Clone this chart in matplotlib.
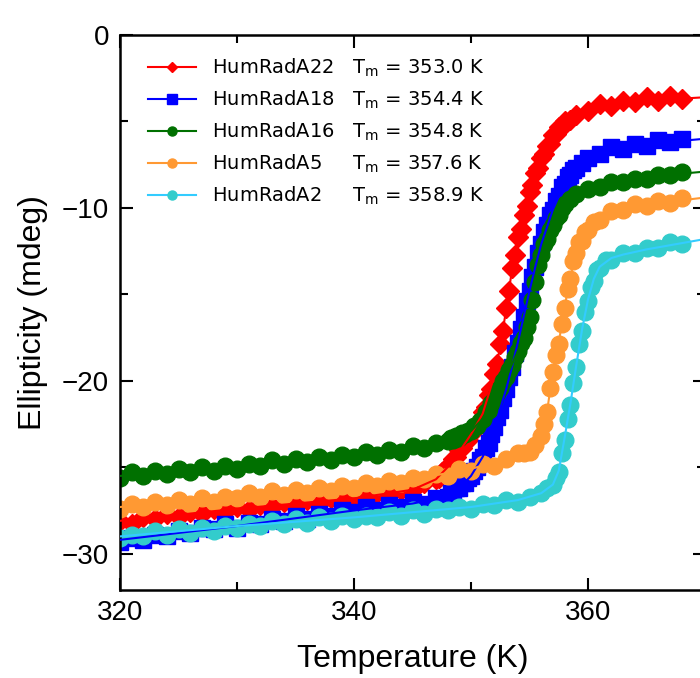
import matplotlib
matplotlib.use('Agg')
import matplotlib.pyplot as plt
from matplotlib.lines import Line2D

# melting curves, ellipticity (mdeg) vs temperature (K)
names = ['HumRadA22', 'HumRadA18', 'HumRadA16', 'HumRadA5', 'HumRadA2']
tm_values = [353.0, 354.4, 354.8, 357.6, 358.9]

# measured points, (T, ellipticity)
pts_a22 = [(320, -28.1), (321, -28.3), (322, -27.9), (323, -28.0), (324, -27.7), (325, -27.9), (326, -27.6),
           (327, -27.7), (328, -27.4), (329, -27.6), (330, -27.3), (331, -27.5), (332, -27.2), (333, -27.3),
           (334, -27.0), (335, -27.2), (336, -26.9), (337, -27.1), (338, -26.8), (339, -26.9), (340, -26.7),
           (341, -26.8), (342, -26.5), (343, -26.6), (344, -26.3), (345, -26.3), (346, -25.9), (347, -25.7),
           (347.25, -25.6), (347.5, -25.3), (347.75, -25.3), (348, -24.9), (348.25, -24.8), (348.5, -24.5),
           (348.75, -24.4), (349, -24.0), (349.25, -23.9), (349.5, -23.5), (349.75, -23.4), (350, -23.0),
           (350.25, -22.9), (350.5, -22.5), (350.75, -22.3), (351, -21.8), (351.25, -21.5), (351.5, -20.8),
           (351.75, -20.5), (352, -19.6), (352.25, -19.0), (352.5, -17.9), (352.75, -17.1), (353, -15.8),
           (353.25, -14.8), (353.5, -13.5), (353.75, -12.7), (354, -11.7), (354.25, -11.2), (354.5, -10.4),
           (354.75, -9.9), (355, -9.1), (355.25, -8.7), (355.5, -8.0), (355.75, -7.7), (356, -7.1),
           (356.25, -6.9), (356.5, -6.4), (356.75, -6.3), (357, -5.8), (357.25, -5.7), (357.5, -5.3),
           (357.75, -5.3), (358, -5.0), (358.5, -4.9), (359, -4.6), (360, -4.4), (361, -4.0), (362, -4.1),
           (363, -3.8), (364, -3.9), (365, -3.6), (366, -3.8), (367, -3.5), (368, -3.7)]

pts_a18 = [(320, -29.3), (321, -29.1), (322, -29.2), (323, -28.9), (324, -29.0), (325, -28.7), (326, -28.8),
           (327, -28.5), (328, -28.6), (329, -28.3), (330, -28.5), (331, -28.2), (332, -28.3), (333, -28.0),
           (334, -28.1), (335, -27.8), (336, -28.0), (337, -27.7), (338, -27.8), (339, -27.5), (340, -27.6),
           (341, -27.3), (342, -27.5), (343, -27.2), (344, -27.3), (345, -27.0), (346, -27.1), (347, -26.8),
           (348, -26.7), (348.25, -26.5), (348.5, -26.5), (348.75, -26.2), (349, -26.2), (349.25, -25.9),
           (349.5, -25.9), (349.75, -25.6), (350, -25.5), (350.25, -25.2), (350.5, -25.0), (350.75, -24.6),
           (351, -24.4), (351.25, -23.9), (351.5, -23.6), (351.75, -23.1), (352, -22.7), (352.25, -22.1),
           (352.5, -21.7), (352.75, -21.0), (353, -20.5), (353.25, -19.8), (353.5, -19.2), (353.75, -18.4),
           (354, -17.8), (354.25, -17.0), (354.5, -16.3), (354.75, -15.4), (355, -14.8), (355.25, -14.0),
           (355.5, -13.4), (355.75, -12.6), (356, -12.1), (356.25, -11.4), (356.5, -11.0), (356.75, -10.4),
           (357, -10.1), (357.25, -9.6), (357.5, -9.3), (357.75, -8.8), (358, -8.6), (358.25, -8.2),
           (358.5, -8.1), (358.75, -7.8), (359, -7.7), (359.5, -7.4), (360, -7.1), (361, -6.9), (362, -6.5),
           (363, -6.6), (364, -6.3), (365, -6.4), (366, -6.1), (367, -6.2), (368, -6.0)]

pts_a16 = [(320, -25.6), (321, -25.3), (322, -25.5), (323, -25.2), (324, -25.4), (325, -25.1), (326, -25.3),
           (327, -25.0), (328, -25.2), (329, -24.9), (330, -25.1), (331, -24.8), (332, -24.9), (333, -24.6),
           (334, -24.8), (335, -24.5), (336, -24.7), (337, -24.4), (338, -24.6), (339, -24.3), (340, -24.4),
           (341, -24.1), (342, -24.3), (343, -24.0), (344, -24.1), (345, -23.8), (346, -23.9), (347, -23.6),
           (348, -23.5), (348.25, -23.3), (348.5, -23.4), (348.75, -23.2), (349, -23.3), (349.25, -23.0),
           (349.5, -23.1), (349.75, -22.9), (350, -22.9), (350.25, -22.6), (350.5, -22.6), (350.75, -22.3),
           (351, -22.2), (351.25, -21.8), (351.5, -21.7), (351.75, -21.3), (352, -21.1), (352.25, -20.7),
           (352.5, -20.4), (352.75, -20.0), (353, -19.8), (353.25, -19.4), (353.5, -19.1), (353.75, -18.6),
           (354, -18.3), (354.25, -17.8), (354.5, -17.5), (354.75, -16.9), (355, -16.3), (355.25, -15.3),
           (355.5, -14.3), (355.75, -13.3), (356, -12.7), (356.25, -12.1), (356.5, -11.8), (356.75, -11.3),
           (357, -11.0), (357.25, -10.6), (357.5, -10.4), (357.75, -10.0), (358, -9.8), (358.5, -9.5),
           (359, -9.2), (360, -8.9), (361, -8.8), (362, -8.5), (363, -8.5), (364, -8.3), (365, -8.3),
           (366, -8.1), (367, -8.1), (368, -7.9)]

pts_a5 = [(320, -27.4), (321, -27.1), (322, -27.3), (323, -27.0), (324, -27.2), (325, -26.9), (326, -27.1),
          (327, -26.8), (328, -27.0), (329, -26.7), (330, -26.8), (331, -26.5), (332, -26.7), (333, -26.4),
          (334, -26.6), (335, -26.3), (336, -26.5), (337, -26.2), (338, -26.4), (339, -26.1), (340, -26.2),
          (341, -25.9), (342, -26.1), (343, -25.8), (344, -25.9), (345, -25.6), (346, -25.7), (347, -25.4),
          (348, -25.5), (349, -25.1), (350, -25.2), (351, -24.8), (352, -24.9), (353, -24.5), (354, -24.2),
          (354.5, -24.2), (355, -24.1), (355.5, -23.7), (356, -23.2), (356.25, -22.5), (356.5, -21.8),
          (356.75, -20.4), (357, -19.5), (357.25, -18.5), (357.5, -17.9), (357.75, -16.7), (358, -15.8),
          (358.25, -14.7), (358.5, -14.1), (358.75, -13.1), (359, -12.6), (359.25, -12.0), (359.5, -11.9),
          (359.75, -11.4), (360, -11.3), (360.5, -10.8), (361, -10.7), (362, -10.2), (363, -10.1),
          (364, -9.8), (365, -9.9), (366, -9.6), (367, -9.7), (368, -9.4)]

pts_a2 = [(320, -29.1), (321, -28.9), (322, -29.0), (323, -28.7), (324, -28.9), (325, -28.6), (326, -28.8),
          (327, -28.5), (328, -28.7), (329, -28.4), (330, -28.5), (331, -28.3), (332, -28.4), (333, -28.1),
          (334, -28.3), (335, -28.0), (336, -28.2), (337, -27.9), (338, -28.1), (339, -27.8), (340, -28.0),
          (341, -27.8), (342, -27.9), (343, -27.6), (344, -27.8), (345, -27.5), (346, -27.7), (347, -27.4),
          (348, -27.5), (349, -27.3), (350, -27.4), (351, -27.1), (352, -27.2), (353, -26.9), (354, -27.0),
          (355, -26.7), (356, -26.5), (356.5, -26.2), (357, -26.0), (357.25, -25.6), (357.5, -25.3),
          (357.75, -24.2), (358, -23.4), (358.25, -22.2), (358.5, -21.4), (358.75, -20.1), (359, -19.2),
          (359.25, -17.9), (359.5, -17.1), (359.75, -16.0), (360, -15.4), (360.25, -14.6), (360.5, -14.2),
          (360.75, -13.6), (361, -13.5), (361.5, -13.0), (362, -13.0), (363, -12.6), (364, -12.6),
          (365, -12.3), (366, -12.3), (367, -12.0), (368, -12.1)]

# fitted curves (run on to the right edge)
Tf_a22 = [320, 330, 340, 345, 347, 348, 349, 350, 351, 352, 352.5, 353, 353.5, 354, 354.5, 355, 355.5, 356,
          357, 358, 360, 362, 365, 370]
Ef_a22 = [-28.1, -27.4, -26.8, -26.3, -25.7, -25.0, -24.1, -23.1, -21.9, -19.7, -18.0, -15.9, -13.6, -11.8,
          -10.5, -9.2, -8.1, -7.2, -5.9, -5.1, -4.4, -4.0, -3.8, -3.6]
Tf_a18 = [320, 330, 340, 345, 348, 349, 350, 351, 352, 353, 353.5, 354, 354.5, 355, 355.5, 356, 357, 358,
          359, 360, 362, 365, 370]
Ef_a18 = [-29.2, -28.4, -27.5, -27.1, -26.7, -26.2, -25.5, -24.4, -22.7, -20.5, -19.2, -17.8, -16.3, -14.8,
          -13.4, -12.1, -10.1, -8.6, -7.7, -7.1, -6.6, -6.3, -6.0]
Tf_a16 = [320, 330, 340, 345, 348, 350, 351, 352, 353, 354, 354.5, 355, 355.5, 356, 356.5, 357, 358, 359,
          360, 362, 365, 370]
Ef_a16 = [-25.5, -25.0, -24.3, -23.9, -23.5, -22.9, -22.2, -21.1, -19.8, -18.3, -17.5, -16.3, -14.3, -12.7,
          -11.8, -11.0, -9.8, -9.2, -8.9, -8.5, -8.2, -7.9]
Tf_a5 = [320, 330, 340, 345, 350, 353, 354, 355, 356, 356.5, 357, 357.5, 358, 358.5, 359, 359.5, 360, 361,
         362, 365, 370]
Ef_a5 = [-27.3, -26.7, -26.1, -25.7, -25.1, -24.5, -24.3, -24.1, -23.2, -21.8, -19.4, -17.8, -15.7, -14.0,
         -12.5, -11.8, -11.2, -10.6, -10.3, -9.8, -9.4]
Tf_a2 = [320, 330, 340, 345, 350, 354, 356, 357, 357.5, 358, 358.5, 359, 359.5, 360, 360.5, 361, 362, 363,
         365, 370]
Ef_a2 = [-29.0, -28.4, -27.9, -27.6, -27.3, -26.9, -26.5, -26.0, -25.2, -23.3, -21.3, -19.1, -17.0, -15.3,
         -14.1, -13.4, -12.9, -12.7, -12.4, -11.8]

points = [pts_a22, pts_a18, pts_a16, pts_a5, pts_a2]
fit_T = [Tf_a22, Tf_a18, Tf_a16, Tf_a5, Tf_a2]
fit_E = [Ef_a22, Ef_a18, Ef_a16, Ef_a5, Ef_a2]
colors = ['#ff0000', '#0000ff', '#007000', '#ff9933', '#33cccc']
line_colors = ['#ff0000', '#0000ff', '#007000', '#ff9933', '#33ccff']
markers = ['D', 's', 'o', 'o', 'o']
msizes = [10.5, 11, 12, 12, 12]
leg_msizes = [5.5, 6.5, 6.5, 6.5, 6.5]

plt.rcParams['mathtext.fontset'] = 'dejavusans'

fig = plt.figure(figsize=(7, 6.78), dpi=100)
ax = fig.add_axes([120 / 700, 88 / 678, 585 / 700, 555 / 678])

for i in range(5):
    T, E = zip(*points[i])
    ax.plot(T, E, ls='none', marker=markers[i], ms=msizes[i],
            color=colors[i], mec=colors[i], zorder=2 + i * 0.1)
for i in range(5):
    ax.plot(fit_T[i], fit_E[i], '-', lw=1.5, color=line_colors[i], zorder=3)

ax.set_xlim(320, 370)
ax.set_ylim(-32.1, 0)
ax.set_xticks([320, 340, 360])
ax.set_xticks([330, 350, 370], minor=True)
ax.set_yticks([0, -10, -20, -30])
ax.set_yticks([-5, -15, -25], minor=True)
ax.tick_params(which='both', direction='in', top=True, right=True, width=1.5)
ax.tick_params(which='major', length=9)
ax.tick_params(which='minor', length=5.5)
ax.tick_params(axis='x', pad=7)
ax.tick_params(axis='y', pad=8)
for spine in ax.spines.values():
    spine.set_linewidth(1.8)

for lab in ax.get_xticklabels() + ax.get_yticklabels():
    lab.set_fontfamily('Liberation Sans')
    lab.set_fontsize(20)
ax.set_xlabel('Temperature (K)', fontfamily='Liberation Sans', fontsize=23, labelpad=13)
ax.set_ylabel('Ellipticity (mdeg)', fontfamily='Liberation Sans', fontsize=23, labelpad=10)

handles = []
labels = []
for i in range(5):
    handles.append(Line2D([], [], color=line_colors[i], lw=1.5, marker=markers[i],
                          ms=leg_msizes[i], mfc=colors[i], mec=colors[i]))
    pad = '' if len(names[i]) == 9 else '  '
    labels.append(names[i] + pad + '   T$_\\mathrm{m}$ = %.1f K' % tm_values[i])
ax.legend(handles, labels, loc='upper left', bbox_to_anchor=(0.034, 0.975), borderaxespad=0,
          frameon=False, fontsize=14, handlelength=2.5)

fig.savefig('out.png', dpi=100)
